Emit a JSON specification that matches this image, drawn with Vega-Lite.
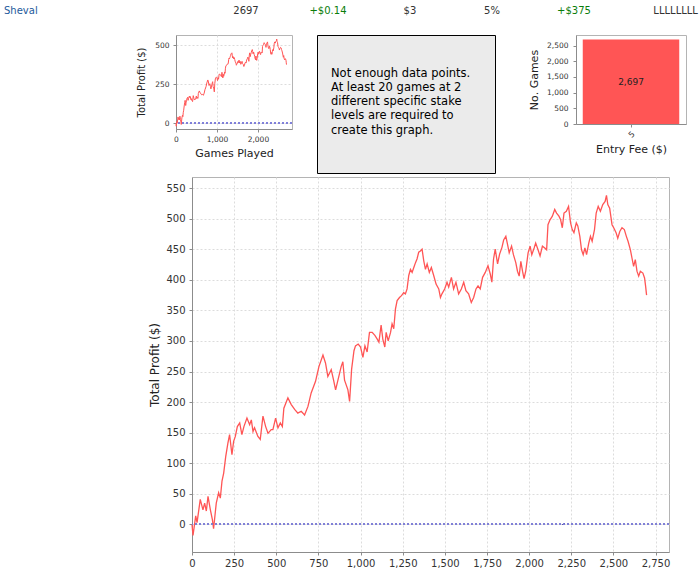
{
  "$schema": "https://vega.github.io/schema/vega-lite/v6.json",
  "padding": 0,
  "background": "white",
  "config": {
    "font": "DejaVu Sans",
    "view": {"stroke": "#b4b4b4"},
    "axis": {
      "labelFont": "DejaVu Sans",
      "titleFont": "DejaVu Sans",
      "titleFontWeight": "normal",
      "labelColor": "#333333",
      "titleColor": "#222222",
      "domainColor": "#8c8c8c",
      "tickColor": "#8c8c8c",
      "gridColor": "#dcdcdc",
      "gridDash": [2, 2],
      "labelFlush": false,
      "labelOverlap": false
    }
  },
  "datasets": {
    "profit": [
      {"games": 0, "profit": 0}, {"games": 6, "profit": -18}, {"games": 22, "profit": 14}, {"games": 30, "profit": 3},
      {"games": 49, "profit": 41}, {"games": 65, "profit": 24}, {"games": 75, "profit": 35}, {"games": 85, "profit": 22},
      {"games": 95, "profit": 46}, {"games": 109, "profit": 24}, {"games": 121, "profit": 8}, {"games": 128, "profit": -7},
      {"games": 144, "profit": 35}, {"games": 158, "profit": 52}, {"games": 168, "profit": 43}, {"games": 178, "profit": 71},
      {"games": 188, "profit": 84}, {"games": 200, "profit": 111}, {"games": 213, "profit": 133}, {"games": 223, "profit": 147},
      {"games": 231, "profit": 128}, {"games": 237, "profit": 114}, {"games": 247, "profit": 136}, {"games": 257, "profit": 144},
      {"games": 269, "profit": 160}, {"games": 283, "profit": 166}, {"games": 296, "profit": 147}, {"games": 308, "profit": 160},
      {"games": 326, "profit": 174}, {"games": 342, "profit": 163}, {"games": 352, "profit": 171}, {"games": 362, "profit": 152},
      {"games": 371, "profit": 158}, {"games": 391, "profit": 144}, {"games": 405, "profit": 139}, {"games": 421, "profit": 177},
      {"games": 437, "profit": 160}, {"games": 451, "profit": 149}, {"games": 470, "profit": 155}, {"games": 480, "profit": 155},
      {"games": 496, "profit": 174}, {"games": 510, "profit": 158}, {"games": 524, "profit": 166}, {"games": 536, "profit": 160},
      {"games": 545, "profit": 190}, {"games": 569, "profit": 207}, {"games": 589, "profit": 196}, {"games": 609, "profit": 188},
      {"games": 628, "profit": 182}, {"games": 648, "profit": 185}, {"games": 668, "profit": 179}, {"games": 688, "profit": 193},
      {"games": 707, "profit": 215}, {"games": 733, "profit": 234}, {"games": 753, "profit": 258}, {"games": 777, "profit": 277},
      {"games": 792, "profit": 264}, {"games": 806, "profit": 242}, {"games": 826, "profit": 253}, {"games": 840, "profit": 236},
      {"games": 852, "profit": 220}, {"games": 885, "profit": 258}, {"games": 895, "profit": 266}, {"games": 905, "profit": 236},
      {"games": 925, "profit": 220}, {"games": 935, "profit": 201}, {"games": 947, "profit": 254}, {"games": 961, "profit": 284},
      {"games": 970, "profit": 292}, {"games": 986, "profit": 295}, {"games": 1000, "profit": 290}, {"games": 1014, "profit": 273},
      {"games": 1026, "profit": 292}, {"games": 1039, "profit": 282}, {"games": 1053, "profit": 314}, {"games": 1069, "profit": 314},
      {"games": 1085, "profit": 309}, {"games": 1099, "profit": 303}, {"games": 1109, "profit": 298}, {"games": 1122, "profit": 326},
      {"games": 1132, "profit": 303}, {"games": 1144, "profit": 290}, {"games": 1152, "profit": 314}, {"games": 1164, "profit": 300},
      {"games": 1178, "profit": 314}, {"games": 1187, "profit": 328}, {"games": 1197, "profit": 320}, {"games": 1207, "profit": 352},
      {"games": 1217, "profit": 366}, {"games": 1231, "profit": 371}, {"games": 1243, "profit": 374}, {"games": 1256, "profit": 379},
      {"games": 1266, "profit": 377}, {"games": 1276, "profit": 385}, {"games": 1286, "profit": 407}, {"games": 1296, "profit": 417},
      {"games": 1306, "profit": 412}, {"games": 1316, "profit": 420}, {"games": 1326, "profit": 428}, {"games": 1335, "profit": 434},
      {"games": 1345, "profit": 445}, {"games": 1355, "profit": 447}, {"games": 1365, "profit": 450}, {"games": 1375, "profit": 431},
      {"games": 1385, "profit": 417}, {"games": 1395, "profit": 426}, {"games": 1408, "profit": 412}, {"games": 1420, "profit": 420},
      {"games": 1434, "profit": 407}, {"games": 1448, "profit": 393}, {"games": 1464, "profit": 385}, {"games": 1474, "profit": 371},
      {"games": 1483, "profit": 377}, {"games": 1499, "profit": 385}, {"games": 1513, "profit": 396}, {"games": 1523, "profit": 388},
      {"games": 1539, "profit": 404}, {"games": 1552, "profit": 385}, {"games": 1566, "profit": 396}, {"games": 1582, "profit": 377},
      {"games": 1598, "profit": 385}, {"games": 1612, "profit": 396}, {"games": 1625, "profit": 382}, {"games": 1641, "profit": 377},
      {"games": 1657, "profit": 363}, {"games": 1671, "profit": 371}, {"games": 1685, "profit": 385}, {"games": 1697, "profit": 390},
      {"games": 1710, "profit": 385}, {"games": 1724, "profit": 404}, {"games": 1740, "profit": 412}, {"games": 1756, "profit": 423},
      {"games": 1770, "profit": 409}, {"games": 1779, "profit": 396}, {"games": 1789, "profit": 434}, {"games": 1799, "profit": 450},
      {"games": 1813, "profit": 426}, {"games": 1825, "profit": 442}, {"games": 1839, "profit": 453}, {"games": 1849, "profit": 465},
      {"games": 1862, "profit": 471}, {"games": 1872, "profit": 458}, {"games": 1882, "profit": 444}, {"games": 1896, "profit": 455},
      {"games": 1907, "profit": 441}, {"games": 1921, "profit": 428}, {"games": 1931, "profit": 414}, {"games": 1941, "profit": 406},
      {"games": 1951, "profit": 430}, {"games": 1961, "profit": 414}, {"games": 1970, "profit": 402}, {"games": 1980, "profit": 414},
      {"games": 1994, "profit": 444}, {"games": 2006, "profit": 455}, {"games": 2016, "profit": 441}, {"games": 2030, "profit": 452},
      {"games": 2039, "profit": 460}, {"games": 2053, "profit": 449}, {"games": 2065, "profit": 439}, {"games": 2079, "profit": 455},
      {"games": 2093, "profit": 452}, {"games": 2104, "profit": 449}, {"games": 2112, "profit": 490}, {"games": 2124, "profit": 498},
      {"games": 2138, "profit": 504}, {"games": 2152, "profit": 515}, {"games": 2163, "profit": 509}, {"games": 2177, "profit": 504},
      {"games": 2187, "profit": 498}, {"games": 2197, "profit": 485}, {"games": 2207, "profit": 509}, {"games": 2221, "profit": 512},
      {"games": 2234, "profit": 520}, {"games": 2246, "profit": 493}, {"games": 2256, "profit": 482}, {"games": 2266, "profit": 477},
      {"games": 2280, "profit": 493}, {"games": 2289, "profit": 488}, {"games": 2301, "profit": 471}, {"games": 2311, "profit": 449},
      {"games": 2321, "profit": 441}, {"games": 2331, "profit": 452}, {"games": 2341, "profit": 441}, {"games": 2354, "profit": 460},
      {"games": 2364, "profit": 471}, {"games": 2374, "profit": 463}, {"games": 2388, "profit": 482}, {"games": 2398, "profit": 509},
      {"games": 2410, "profit": 520}, {"games": 2423, "profit": 512}, {"games": 2437, "profit": 523}, {"games": 2451, "profit": 528},
      {"games": 2459, "profit": 538}, {"games": 2467, "profit": 523}, {"games": 2478, "profit": 517}, {"games": 2492, "profit": 490},
      {"games": 2502, "profit": 485}, {"games": 2516, "profit": 477}, {"games": 2526, "profit": 468}, {"games": 2538, "profit": 479},
      {"games": 2551, "profit": 485}, {"games": 2565, "profit": 482}, {"games": 2577, "profit": 471}, {"games": 2587, "profit": 463},
      {"games": 2601, "profit": 449}, {"games": 2610, "profit": 436}, {"games": 2620, "profit": 422}, {"games": 2630, "profit": 433},
      {"games": 2640, "profit": 414}, {"games": 2650, "profit": 406}, {"games": 2660, "profit": 414}, {"games": 2675, "profit": 411},
      {"games": 2685, "profit": 403}, {"games": 2691, "profit": 390}, {"games": 2697, "profit": 375}
    ]
  },
  "spacing": 2,
  "vconcat": [
    {
      "width": 700,
      "height": 31.5,
      "view": {"stroke": null},
      "data": {"values": [
        {"col": 0, "label": "Sheval", "kind": "name"},
        {"col": 3, "label": "2697", "kind": "plain"},
        {"col": 4, "label": "+$0.14", "kind": "gain"},
        {"col": 5, "label": "$3", "kind": "plain"},
        {"col": 6, "label": "5%", "kind": "plain"},
        {"col": 7, "label": "+$375", "kind": "gain"},
        {"col": 8.24, "label": "LLLLLLLL", "kind": "plain"}
      ]},
      "encoding": {
        "x": {"field": "col", "type": "quantitative", "scale": {"domain": [0, 8.537], "nice": false, "zero": false}, "axis": null},
        "text": {"field": "label", "type": "nominal"},
        "color": {"field": "kind", "type": "nominal", "scale": {"domain": ["name", "plain", "gain"], "range": ["#235a9c", "#333333", "#0a7d0a"]}, "legend": null}
      },
      "layer": [
        {"transform": [{"filter": "datum.kind == 'name'"}], "mark": {"type": "text", "align": "left", "dx": 4, "dy": -5, "fontSize": 10, "font": "DejaVu Sans"}},
        {"transform": [{"filter": "datum.kind != 'name'"}], "mark": {"type": "text", "align": "center", "dy": -5, "fontSize": 10, "font": "DejaVu Sans"}}
      ]
    },
    {
      "bounds": "flush",
      "spacing": 0,
      "hconcat": [
        {"width": 176, "height": 1, "view": {"stroke": null}, "data": {"values": []}, "mark": "point"},
        {
          "width": 116,
          "height": 94,
          "data": {"name": "profit"},
          "layer": [
            {
              "mark": {"type": "line", "color": "#ff5555", "strokeWidth": 1},
              "encoding": {
                "x": {"field": "games", "type": "quantitative", "scale": {"domain": [0, 2832], "nice": false, "zero": false},
                  "axis": {"values": [0, 1000, 2000], "format": ",.0f", "title": "Games Played", "titleFontSize": 11, "labelFontSize": 7.5, "tickSize": 3, "labelPadding": 3, "titlePadding": 5}},
                "y": {"field": "profit", "type": "quantitative", "scale": {"domain": [-36, 564], "nice": false, "zero": false},
                  "axis": {"values": [0, 250, 500], "format": ",.0f", "title": "Total Profit ($)", "titleFontSize": 10, "labelFontSize": 7.5, "tickSize": 3, "labelPadding": 4, "titlePadding": 8}}
              }
            },
            {
              "mark": {"type": "rule", "color": "#8080d8", "strokeDash": [2, 2], "strokeWidth": 0.8},
              "encoding": {"y": {"datum": 0, "type": "quantitative",
                "axis": {"values": [0, 250, 500], "format": ",.0f", "title": "Total Profit ($)", "titleFontSize": 10, "labelFontSize": 7.5, "tickSize": 3, "labelPadding": 4, "titlePadding": 8}}}
            }
          ]
        },
        {"width": 25, "height": 1, "view": {"stroke": null}, "data": {"values": []}, "mark": "point"},
        {
          "width": 178,
          "height": 138,
          "view": {"fill": "#ebebeb", "stroke": "#000000", "strokeWidth": 1},
          "data": {"values": [{"msg": ["Not enough data points.", "At least 20 games at 2", "different specific stake", "levels are required to", "create this graph."]}]},
          "mark": {"type": "text", "align": "left", "baseline": "middle", "dx": -75, "dy": -30.5, "fontSize": 11.5, "lineHeight": 14.3, "color": "#000000", "font": "DejaVu Sans"},
          "encoding": {"text": {"field": "msg", "type": "nominal"}}
        },
        {"width": 81, "height": 1, "view": {"stroke": null}, "data": {"values": []}, "mark": "point"},
        {
          "width": 110,
          "height": 89,
          "data": {"values": [{"fee": "5", "games": 2697}]},
          "encoding": {
            "x": {"field": "fee", "type": "nominal", "scale": {"paddingInner": 0, "paddingOuter": 0.07},
              "axis": {"title": "Entry Fee ($)", "titleFontSize": 11, "labelAngle": -45, "labelFontSize": 8, "tickSize": 3, "labelPadding": 3, "titlePadding": 4}}
          },
          "layer": [
            {
              "mark": {"type": "bar", "color": "#ff5555"},
              "encoding": {
                "y": {"field": "games", "type": "quantitative", "scale": {"domain": [0, 2840], "nice": false},
                  "axis": {"values": [0, 500, 1000, 1500, 2000, 2500], "format": ",.0f", "title": "No. Games", "titleFontSize": 11, "labelFontSize": 7.5, "tickSize": 3, "labelPadding": 5, "titlePadding": 7, "grid": false}}
              }
            },
            {
              "mark": {"type": "text", "fontSize": 9, "dy": 2, "color": "#222222", "font": "DejaVu Sans"},
              "encoding": {"text": {"field": "games", "type": "quantitative", "format": ",.0f"}}
            }
          ]
        }
      ]
    },
    {
      "bounds": "flush",
      "spacing": 0,
      "hconcat": [
        {"width": 192, "height": 1, "view": {"stroke": null}, "data": {"values": []}, "mark": "point"},
        {
          "width": 477,
          "height": 375,
          "data": {"name": "profit"},
          "layer": [
            {
              "mark": {"type": "line", "color": "#ff5555", "strokeWidth": 1.3},
              "encoding": {
                "x": {"field": "games", "type": "quantitative", "scale": {"domain": [0, 2830], "nice": false, "zero": false},
                  "axis": {"values": [0, 250, 500, 750, 1000, 1250, 1500, 1750, 2000, 2250, 2500, 2750], "format": ",.0f", "title": null, "labelFontSize": 10, "tickSize": 3, "labelPadding": 3}},
                "y": {"field": "profit", "type": "quantitative", "scale": {"domain": [-45, 568], "nice": false, "zero": false},
                  "axis": {"values": [0, 50, 100, 150, 200, 250, 300, 350, 400, 450, 500, 550], "format": ",.0f", "title": "Total Profit ($)", "titleFontSize": 12, "labelFontSize": 10, "tickSize": 3, "labelPadding": 4, "titlePadding": 4}}
              }
            },
            {
              "mark": {"type": "rule", "color": "#8080d8", "strokeDash": [2, 2], "strokeWidth": 0.8},
              "encoding": {"y": {"datum": 0, "type": "quantitative",
                "axis": {"values": [0, 50, 100, 150, 200, 250, 300, 350, 400, 450, 500, 550], "format": ",.0f", "title": "Total Profit ($)", "titleFontSize": 12, "labelFontSize": 10, "tickSize": 3, "labelPadding": 4, "titlePadding": 4}}}
            }
          ]
        }
      ]
    }
  ]
}
